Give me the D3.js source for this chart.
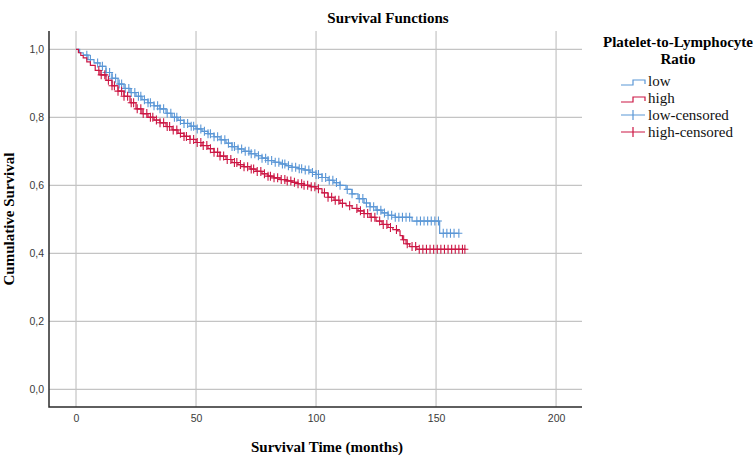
<!DOCTYPE html>
<html>
<head>
<meta charset="utf-8">
<script src="https://cdn.jsdelivr.net/npm/d3@7"></script>
<style>
  body { margin: 0; background: #fff; }
  svg { display: block; }
</style>
</head>
<body>
<svg id="chart" width="756" height="459"></svg>
<script>
// Kaplan-Meier step knots (months, cumulative survival)
const lowTimes = [0, 1.5, 3, 5, 7.5, 10, 12.5, 15, 17.5, 20, 22.5, 25, 27.5, 30, 32.5, 35, 37.5, 40, 42.5, 45,
  47.5, 50, 52.5, 55, 57.5, 60, 62.5, 65, 67.5, 70, 72.5, 75, 77.5, 80, 82.5, 85, 87.5, 90, 92.5, 95,
  97.5, 100, 102.5, 105, 107.5, 110, 112.5, 115, 117.5, 120, 122.5, 125, 127.5, 130, 133, 140, 151.5];
const lowSurv = [1.000, 0.990, 0.983, 0.970, 0.960, 0.950, 0.932, 0.915, 0.898, 0.885, 0.873, 0.862, 0.852, 0.843, 0.834, 0.825, 0.812, 0.800, 0.791, 0.782,
  0.774, 0.766, 0.759, 0.752, 0.743, 0.734, 0.724, 0.714, 0.707, 0.700, 0.693, 0.687, 0.680, 0.673, 0.668, 0.663, 0.658, 0.653, 0.649, 0.645,
  0.638, 0.632, 0.623, 0.615, 0.608, 0.600, 0.588, 0.575, 0.561, 0.548, 0.537, 0.527, 0.519, 0.512, 0.506, 0.495, 0.459];
const lowEnd = 159.5;

const highTimes = [0, 1, 2, 3, 4.5, 6, 8, 10, 12.5, 15, 17.5, 20, 22.5, 25, 27.5, 30, 32.5, 35, 37.5, 40,
  42.5, 45, 47.5, 50, 52.5, 55, 57.5, 60, 62.5, 65, 67.5, 70, 72.5, 75, 77.5, 80, 82.5, 85, 87.5, 90,
  92.5, 95, 97.5, 100, 102.5, 105, 107.5, 110, 112.5, 115, 117.5, 120, 122.5, 125, 127.5, 130, 132, 134, 135, 136,
  137.5, 139, 142];
const highSurv = [1.000, 0.990, 0.982, 0.975, 0.963, 0.953, 0.938, 0.925, 0.909, 0.893, 0.877, 0.862, 0.843, 0.825, 0.811, 0.800, 0.792, 0.784, 0.773, 0.763,
  0.753, 0.744, 0.735, 0.726, 0.717, 0.708, 0.697, 0.686, 0.676, 0.667, 0.661, 0.655, 0.648, 0.641, 0.634, 0.627, 0.622, 0.617, 0.613, 0.609,
  0.605, 0.600, 0.596, 0.590, 0.578, 0.565, 0.556, 0.547, 0.540, 0.532, 0.525, 0.517, 0.506, 0.495, 0.485, 0.476, 0.470, 0.466, 0.452, 0.440,
  0.428, 0.420, 0.412];
const highEnd = 162;

// censored observations (months)
const lowCensored = [4.5, 6, 9, 11, 12.5, 14, 15, 16.5, 18, 19, 20.5, 22, 23, 24.5, 26, 27, 28.5, 30, 31, 32.5,
  34, 35, 36.5, 38, 39.5, 41, 42, 43.5, 45, 46.5, 48, 49, 50.5, 52, 53.5, 55, 56, 57.5, 59, 60.5,
  62, 63.5, 65, 66, 67.5, 69, 70.5, 72, 73, 74.5, 76, 77.5, 79, 80, 81.5, 83, 84.5, 86, 87, 88.5,
  90, 91.5, 93, 94, 95.5, 97, 98.5, 100, 101, 102.5, 104, 105.5, 107, 108.5, 110, 113, 115, 118, 119.5, 121,
  122.5, 124, 125.5, 127, 128.5, 130, 131.5, 133, 134.5, 136, 137.5, 139, 142, 143.5, 145, 146.5, 148, 149.5,
  151, 153, 154.5, 156, 157.5, 159.5];
const highCensored = [9.5, 10.5, 12, 13.5, 15, 16, 17.5, 19, 20, 21.5, 23, 24, 25.5, 27, 28, 29.5, 31, 32, 33.5, 35,
  36.5, 38, 39, 40.5, 42, 43.5, 45, 46, 47.5, 49, 50.5, 52, 53, 54.5, 56, 57.5, 59, 60, 61.5, 63,
  64.5, 66, 67, 68.5, 70, 71.5, 73, 74, 75.5, 77, 78.5, 80, 81, 82.5, 84, 85.5, 87, 88, 89.5, 91,
  92.5, 94, 95, 96.5, 98, 99.5, 101, 103.5, 105, 106.5, 108, 109.5, 111, 114, 117, 118.5, 120, 121.5, 123, 124.5,
  126.5, 128, 129.5, 131, 133.5, 136.5, 138, 140, 141.5, 143, 144.5, 146, 147.5, 149, 150.5, 152, 153.5, 155,
  156.5, 158, 159.5, 161, 162];

const xTicks = [0, 50, 100, 150, 200];
const yTicks = [0, 0.2, 0.4, 0.6, 0.8, 1.0];
const groupNames = ['low', 'high'];
const legendLabels = ['low', 'high', 'low-censored', 'high-censored'];

const blue = '#5b97d6';
const red = '#cc1744';

const svg = d3.select('#chart');
const serif = '"Liberation Serif", "Times New Roman", serif';
const sans = '"Liberation Sans", Arial, sans-serif';

const plot = { left: 49, right: 582, top: 31, bottom: 407 };

const x = d3.scaleLinear().domain([-11.25, 210.8]).range([plot.left, plot.right]);
const y = d3.scaleLinear().domain([-0.052, 1.054]).range([plot.bottom, plot.top]);

const locale = d3.formatLocale({ decimal: ',', thousands: '.', grouping: [3], currency: ['', ''] });
const fmt = locale.format('.1f');

// gridlines
svg.append('g')
  .selectAll('line')
  .data(xTicks)
  .enter()
  .append('line')
  .attr('x1', (d) => x(d)).attr('x2', (d) => x(d))
  .attr('y1', plot.top).attr('y2', plot.bottom)
  .attr('stroke', '#c4c4c4')
  .attr('stroke-width', 1.2);

svg.append('g')
  .selectAll('line')
  .data(yTicks)
  .enter()
  .append('line')
  .attr('x1', plot.left).attr('x2', plot.right)
  .attr('y1', (d) => y(d)).attr('y2', (d) => y(d))
  .attr('stroke', '#c4c4c4')
  .attr('stroke-width', 1.2);

// axes
const xAxis = svg.append('g')
  .attr('transform', `translate(0,${plot.bottom})`)
  .call(d3.axisBottom(x).tickValues(xTicks).tickSize(0).tickPadding(7.5).tickFormat(d3.format('d')));
xAxis.select('.domain').remove();
xAxis.selectAll('text').style('font-family', sans).style('font-size', '10.5px').attr('fill', '#3a3a3a');

const yAxis = svg.append('g')
  .attr('transform', `translate(${plot.left},0)`)
  .call(d3.axisLeft(y).tickValues(yTicks).tickSize(0).tickPadding(5).tickFormat(fmt));
yAxis.select('.domain').remove();
yAxis.selectAll('text').style('font-family', sans).style('font-size', '10.5px').attr('fill', '#3a3a3a');

svg.append('path')
  .attr('d', `M${plot.left},${plot.top}V${plot.bottom}H${plot.right}`)
  .attr('fill', 'none')
  .attr('stroke', '#2b2b2b')
  .attr('stroke-width', 1.5);

// survival curves
const groups = [
  { name: groupNames[0], times: lowTimes, surv: lowSurv, end: lowEnd, cens: lowCensored, color: blue },
  { name: groupNames[1], times: highTimes, surv: highSurv, end: highEnd, cens: highCensored, color: red }
];

const stepLine = d3.line()
  .x((d) => x(d[0]))
  .y((d) => y(d[1]))
  .curve(d3.curveStepAfter);

const bis = d3.bisector((d) => d).right;

groups.forEach((g) => {
  const pts = g.times.map((t, i) => [t, g.surv[i]]);
  pts.push([g.end, g.surv[g.surv.length - 1]]);

  svg.append('path')
    .datum(pts)
    .attr('d', stepLine)
    .attr('fill', 'none')
    .attr('stroke', g.color)
    .attr('stroke-width', 1.2);

  const survAt = (t) => g.surv[Math.max(0, bis(g.times, t) - 1)];

  const marks = svg.append('g');
  g.cens.forEach((t) => {
    const cx = x(t);
    const cy = y(survAt(t));
    marks.append('path')
      .attr('d', `M${cx},${cy - 4.5}V${cy + 4.5}M${cx - 3.5},${cy}H${cx + 3.5}`)
      .attr('stroke', g.color)
      .attr('stroke-width', 1.1)
      .attr('fill', 'none');
  });
});

// titles
svg.append('text')
  .attr('x', 388).attr('y', 23)
  .attr('text-anchor', 'middle')
  .style('font-family', serif).style('font-size', '15px').style('font-weight', 'bold')
  .text('Survival Functions');

svg.append('text')
  .attr('x', 327).attr('y', 452)
  .attr('text-anchor', 'middle')
  .style('font-family', serif).style('font-size', '15px').style('font-weight', 'bold')
  .text('Survival Time (months)');

svg.append('text')
  .attr('transform', `translate(14,${(plot.top + plot.bottom) / 2}) rotate(-90)`)
  .attr('text-anchor', 'middle')
  .style('font-family', serif).style('font-size', '15px').style('font-weight', 'bold')
  .text('Cumulative Survival');

// legend
const legend = svg.append('g');
legend.append('text')
  .attr('x', 678).attr('y', 47)
  .attr('text-anchor', 'middle')
  .style('font-family', serif).style('font-size', '15px').style('font-weight', 'bold')
  .text('Platelet-to-Lymphocyte');
legend.append('text')
  .attr('x', 678).attr('y', 64)
  .attr('text-anchor', 'middle')
  .style('font-family', serif).style('font-size', '15px').style('font-weight', 'bold')
  .text('Ratio');

const legendColors = [blue, red, blue, red];
legendLabels.forEach((lab, i) => {
  const by = 86 + i * 17;
  const sym = i < 2
    ? `M621,${by - 1}H633V${by - 6}H645V${by - 2}`
    : `M621,${by - 5}H645M633,${by - 10}V${by}`;
  legend.append('path')
    .attr('d', sym)
    .attr('fill', 'none')
    .attr('stroke', legendColors[i])
    .attr('stroke-width', 1.2);
  legend.append('text')
    .attr('x', 648).attr('y', by)
    .style('font-family', serif).style('font-size', '15px')
    .attr('fill', '#111')
    .text(lab);
});
</script>
</body>
</html>
